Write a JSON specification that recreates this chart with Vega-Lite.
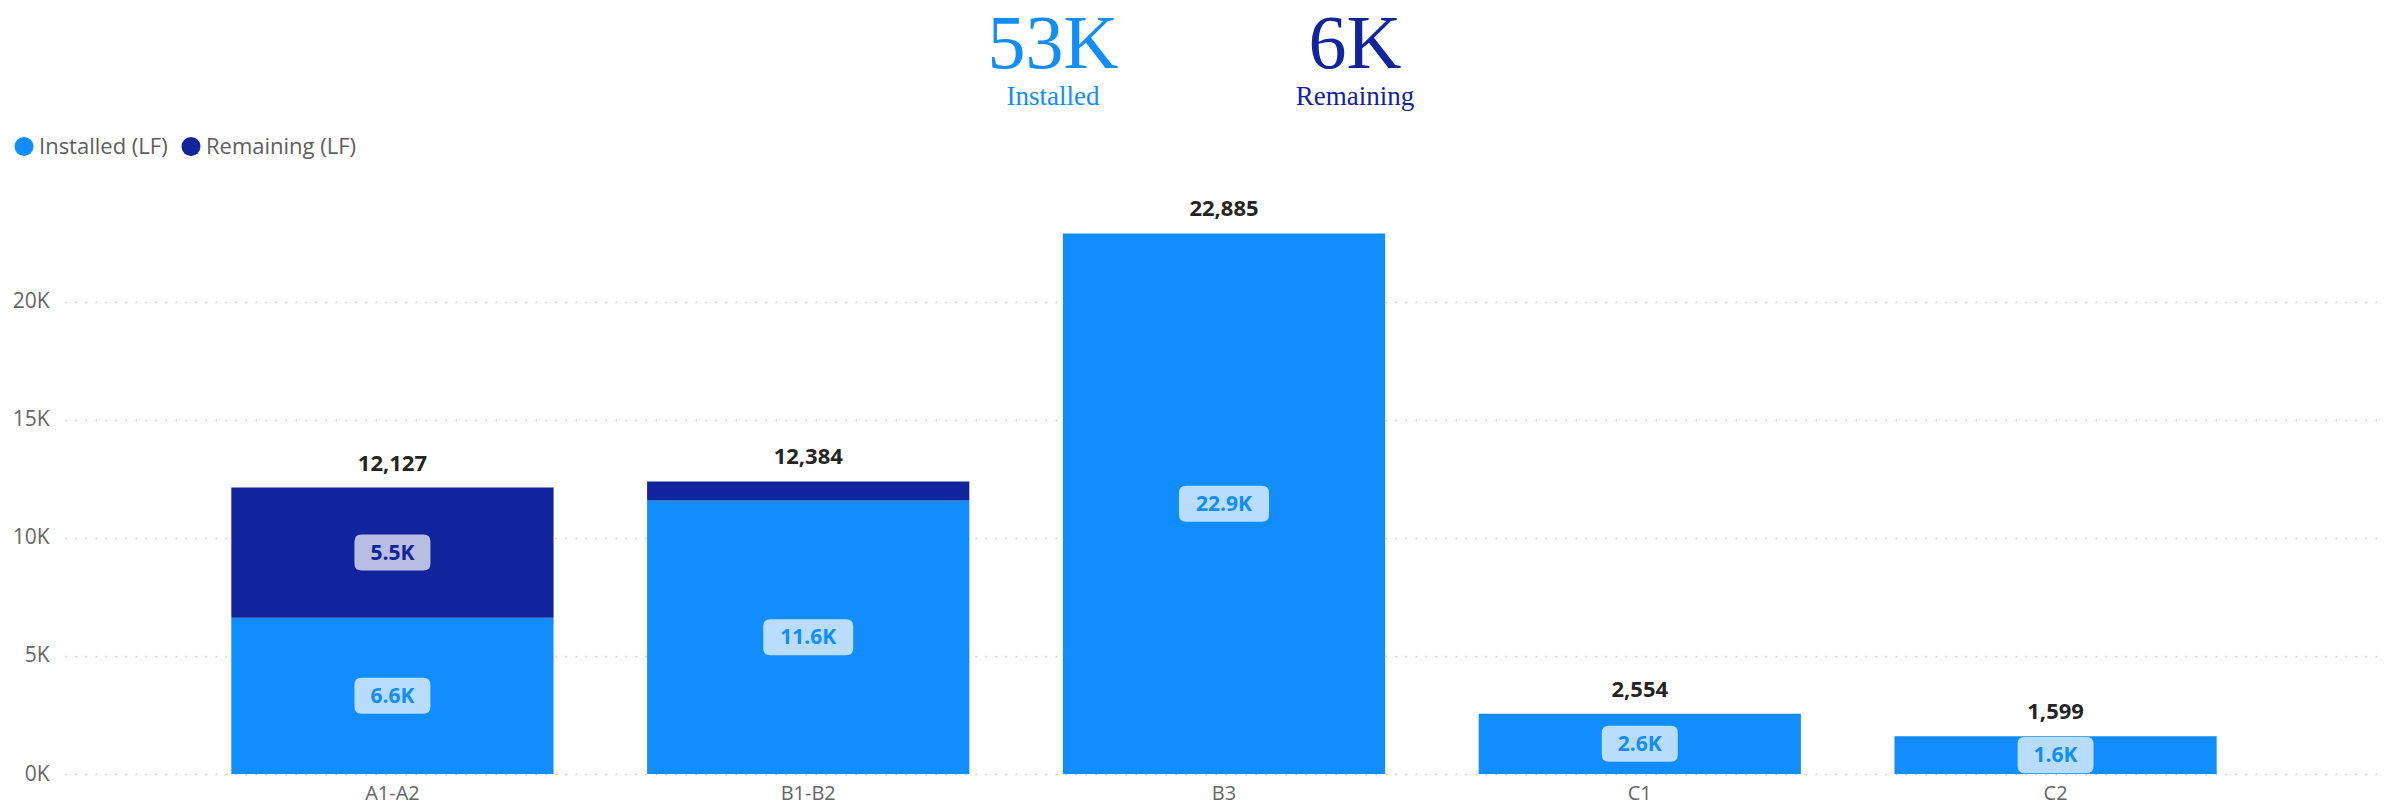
{
  "$schema": "https://vega.github.io/schema/vega-lite/v6.json",
  "padding": {"left": 12, "top": 0, "right": 21, "bottom": 4},
  "background": "white",
  "config": {"view": {"stroke": null}, "font": "Open Sans"},
  "bounds": "flush",
  "spacing": 80,
  "vconcat": [
    {
      "width": 2318,
      "height": 120,
      "data": {"values": [
        {"kpi": "Installed", "series": "Installed (LF)", "amount": 53000},
        {"kpi": "Remaining", "series": "Remaining (LF)", "amount": 6000}
      ]},
      "encoding": {
        "x": {"field": "kpi", "type": "nominal", "scale": {"type": "point", "domain": ["Installed", "Remaining"], "range": [988, 1290], "padding": 0}, "axis": null},
        "color": {"field": "series", "type": "nominal", "scale": {"domain": ["Installed (LF)", "Remaining (LF)"], "range": ["#118DFF", "#12239E"]}}
      },
      "layer": [
        {"mark": {"type": "text", "font": "Liberation Serif", "fontSize": 76, "baseline": "alphabetic", "align": "center", "dy": 8, "text": {"expr": "format(datum.amount/1000, '.0f') + 'K'"}}},
        {"mark": {"type": "text", "font": "Liberation Serif", "fontSize": 27, "baseline": "alphabetic", "align": "center", "dy": 45}, "encoding": {"text": {"field": "kpi", "type": "nominal"}}}
      ]
    },
    {
      "width": 2318,
      "height": 574,
      "data": {"values": [
        {"area": "A1-A2", "series": "Installed (LF)", "value": 6620},
        {"area": "A1-A2", "series": "Remaining (LF)", "value": 5507},
        {"area": "B1-B2", "series": "Installed (LF)", "value": 11574},
        {"area": "B1-B2", "series": "Remaining (LF)", "value": 810},
        {"area": "B3", "series": "Installed (LF)", "value": 22885},
        {"area": "C1", "series": "Installed (LF)", "value": 2554},
        {"area": "C2", "series": "Installed (LF)", "value": 1599}
      ]},
      "encoding": {
        "x": {"field": "area", "type": "nominal", "sort": ["A1-A2", "B1-B2", "B3", "C1", "C2"],
          "scale": {"paddingInner": 0.225, "paddingOuter": 0.4},
          "axis": {"title": null, "labelAngle": 0, "ticks": false, "domain": false, "labelPadding": 9, "labelFontSize": 20, "labelColor": "#666666", "labelFont": "Open Sans"}}
      },
      "layer": [
        {
          "mark": {"type": "bar"},
          "encoding": {
            "y": {"field": "value", "type": "quantitative", "stack": "zero", "title": null,
              "scale": {"domain": [0, 24300], "nice": false, "zero": true},
              "axis": {"title": null, "values": [0, 5000, 10000, 15000, 20000], "labelExpr": "datum.value / 1000 + 'K'", "ticks": false, "domain": false, "labelPadding": 16, "labelFontSize": 21, "labelColor": "#666666", "labelFont": "Open Sans", "grid": true, "gridColor": "#C8C6C4", "gridDash": [1.5, 8.5], "gridWidth": 1.5}},
            "color": {"field": "series", "type": "nominal",
              "scale": {"domain": ["Installed (LF)", "Remaining (LF)"], "range": ["#118DFF", "#12239E"]},
              "legend": {"orient": "none", "legendX": -52, "legendY": 135.5, "direction": "horizontal", "title": null, "symbolType": "circle", "symbolSize": 361, "symbolStrokeWidth": 0, "labelFont": "Open Sans", "labelFontSize": 22, "labelColor": "#605E5C", "labelLimit": 400, "columnPadding": 12, "labelOffset": 4, "padding": 0}},
            "order": {"field": "series", "sort": "ascending"}
          }
        },
        {
          "mark": {"type": "text", "baseline": "alphabetic", "align": "center", "dy": -17, "fontWeight": "bold", "fontSize": 22, "font": "Open Sans", "color": "#252423"},
          "encoding": {
            "y": {"aggregate": "sum", "field": "value", "type": "quantitative", "title": null},
            "text": {"aggregate": "sum", "field": "value", "type": "quantitative", "format": ","}
          }
        },
        {
          "transform": [
            {"stack": "value", "groupby": ["area"], "sort": [{"field": "series", "order": "ascending"}], "as": ["v0", "v1"]},
            {"calculate": "(datum.v0 + datum.v1) / 2", "as": "mid"},
            {"filter": "datum.value >= 1000"}
          ],
          "layer": [
            {
              "mark": {"type": "point", "filled": true, "fill": "white", "fillOpacity": 0.7, "strokeWidth": 0, "opacity": 1},
              "encoding": {
                "y": {"field": "mid", "type": "quantitative", "title": null},
                "shape": {"condition": {"test": "datum.value >= 10000", "value": "M -0.844,-0.4 L 0.844,-0.4 Q 1,-0.4 1,-0.244 L 1,0.244 Q 1,0.4 0.844,0.4 L -0.844,0.4 Q -1,0.4 -1,0.244 L -1,-0.244 Q -1,-0.4 -0.844,-0.4 Z"}, "value": "M -0.816,-0.474 L 0.816,-0.474 Q 1,-0.474 1,-0.29 L 1,0.29 Q 1,0.474 0.816,0.474 L -0.816,0.474 Q -1,0.474 -1,0.29 L -1,-0.29 Q -1,-0.474 -0.816,-0.474 Z"},
                "size": {"condition": {"test": "datum.value >= 10000", "value": 8100}, "value": 5776}
              }
            },
            {
              "mark": {"type": "text", "baseline": "middle", "align": "center", "dy": 1, "fontWeight": "bold", "fontSize": 21, "font": "Open Sans", "text": {"expr": "format(datum.value / 1000, '.1f') + 'K'"}},
              "encoding": {
                "y": {"field": "mid", "type": "quantitative", "title": null},
                "color": {"field": "series", "type": "nominal"}
              }
            }
          ]
        }
      ]
    }
  ]
}
